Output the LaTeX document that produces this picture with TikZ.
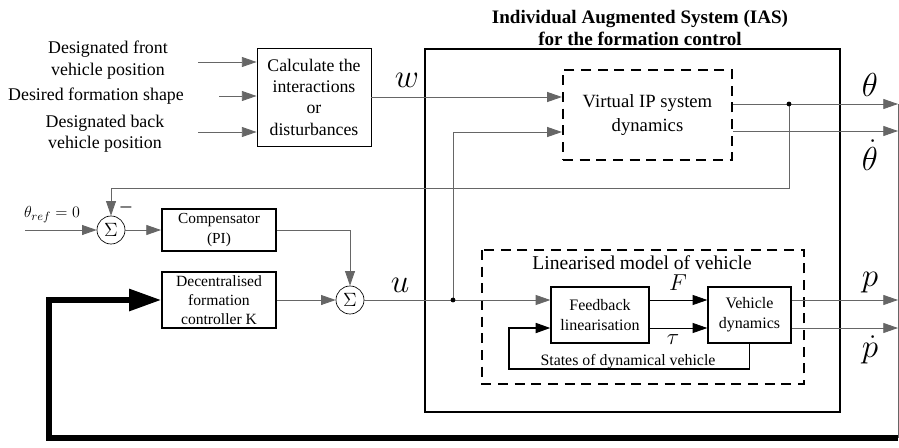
\documentclass[tikz,border=0pt]{standalone}
\usepackage{amsmath,amssymb}
\usepackage{fontspec}
\setmainfont{Liberation Serif}
\usepackage{tikz}
\usetikzlibrary{arrows.meta,calc,positioning}

\begin{document}
\begin{tikzpicture}[x=0.75pt,y=0.75pt,yscale=-1,xscale=1,
  blk/.style={draw,line width=1.2pt,align=center,inner sep=0pt},
  sumnode/.style={draw,circle,line width=0.5pt,minimum size=21pt,inner sep=0pt,font=\fontsize{14}{16}\selectfont},
  wire/.style={draw=black!60,line width=0.6pt},
  sig/.style={wire,-{Triangle[length=11pt,width=7.5pt]}},
  dashbox/.style={draw,line width=1.7pt,dash pattern=on 7.5pt off 5pt},
  lbl/.style={inner sep=0.75pt,align=center,font=\fontsize{13.4}{16}\selectfont},
  sym/.style={inner sep=0.75pt,font=\fontsize{26}{28}\selectfont}]
\useasboundingbox (0,0) rectangle (899,447);

% Text Node
\node[lbl] (front) at (108,60) {Designated front\\vehicle position};
\node[lbl] (shape) at (96,96) {Desired formation shape};
\node[lbl] (back) at (105,134) {Designated back\\vehicle position};
\node[inner sep=0.75pt,align=center,font=\fontsize{14.3}{17}\selectfont\bfseries] (title) at (640,28) {Individual Augmented System (IAS)\\for the formation control};

%Shape: Rectangle
\node[blk,line width=0.7pt,minimum width=85.5pt,minimum height=73.5pt,font=\fontsize{13.3}{16}\selectfont] (calc) at (314,97) {Calculate the\\interactions\\or\\disturbances};
\node[blk,line width=1.5pt,minimum width=85.5pt,minimum height=31.5pt,font=\fontsize{11.5}{15}\selectfont] (comp) at (219,230) {Compensator\\(PI)};
\node[blk,line width=1.5pt,minimum width=85.5pt,minimum height=42pt,font=\fontsize{11.7}{14}\selectfont] (dec) at (219,300) {Decentralised\\formation\\controller K};
\node[sumnode] (s1) at (111,230) {$\Sigma$};
\node[sumnode] (s2) at (350,300) {$\Sigma$};

% IAS block
\draw[line width=2.2pt] (425,49) rectangle (840,412);
\node[dashbox,minimum width=126.75pt,minimum height=67.5pt,align=center,font=\fontsize{14}{18}\selectfont] (virt) at (647.5,115) {Virtual IP system\\dynamics};
\draw[dashbox] (482,250) rectangle (804,384);
\node[inner sep=0.75pt,font=\fontsize{14.7}{18}\selectfont] (linlbl) at (642,263) {Linearised model of vehicle};
\node[blk,line width=1pt,minimum width=73.5pt,minimum height=42pt,font=\fontsize{12}{15}\selectfont] (fbl) at (600,315) {Feedback\\linearisation};
\node[blk,line width=1pt,minimum width=62.25pt,minimum height=42pt,font=\fontsize{12}{15}\selectfont] (veh) at (749.5,315) {Vehicle\\dynamics};
\node[inner sep=0.75pt,font=\fontsize{11.9}{14}\selectfont] (states) at (628,362) {States of dynamical vehicle};

% Coordinates
\coordinate (inF) at (198,62);
\coordinate (inS) at (219,96);
\coordinate (inB) at (198,132);
\coordinate (inR) at (25,230);
\coordinate (jt) at (789,104);
\coordinate (ju) at (453,300);
\coordinate (tap) at (111,188);
\coordinate (lp) at (509,369);
\coordinate (busT) at (898,104);
\coordinate (thd) at (898,131);
\coordinate (pout) at (898,300);
\coordinate (pdout) at (898,328);
\coordinate (busB) at (898,438);
\coordinate (fbL) at (49,300);

%Straight Lines
\draw[sig] (inF) -- (inF -| calc.west);
\draw[sig] (inS) -- (inS -| calc.west);
\draw[sig] (inB) -- (inB -| calc.west);
\draw[sig] (calc.east) -- (calc.east -| virt.west);
\draw[wire] ([yshift=-8.25pt]virt.east) -- (jt);
\draw[sig] (jt) -- (busT);
\draw[sig] ([yshift=12pt]virt.east) -- (thd);
\draw[sig] (jt) |- (tap) -- (s1.north);
\draw[sig] (inR) -- (s1.west);
\draw[sig] (s1.east) -- (comp.west);
\draw[sig] (comp.east) -| (s2.north);
\draw[sig] (dec.east) -- (s2.west);
\draw[wire] (s2.east) -- (ju);
\draw[sig] (ju) -- ([yshift=-11.25pt]fbl.west);
\draw[sig] (ju) |- ([yshift=12.75pt]virt.west);
\draw[sig,draw=black] ([yshift=-11.25pt]fbl.east) -- ([yshift=-11.25pt]veh.west);
\draw[sig,draw=black] ([yshift=9.75pt]fbl.east) -- ([yshift=9.75pt]veh.west);
\draw[sig] ([yshift=-11.25pt]veh.east) -- (pout);
\draw[sig] ([yshift=9.75pt]veh.east) -- (pdout);
\draw[line width=1.3pt,-{Triangle[length=11pt,width=7.5pt]}] (veh.south) |- (lp) |- ([yshift=9.75pt]fbl.west);
\draw[wire] (busT) -- (busB);
\draw[line width=3.8pt,-{Triangle[length=24pt,width=16pt]}] (busB) -| (fbL) -- (dec.west);

% Junction dots
\fill (jt) circle (1.8pt);
\fill (ju) circle (1.8pt);

% Text Node
\node[sym] (wl) at (407,80) {$w$};
\node[sym] (ul) at (400,285) {$u$};
\node[sym] (thl) at (870,85) {$\theta$};
\node[sym] (thdl) at (870,155) {$\dot{\theta}$};
\node[sym] (pl) at (870,283) {$p$};
\node[sym] (pdl) at (870,350) {$\dot{p}$};
\node[inner sep=0.75pt,font=\fontsize{18}{20}\selectfont] (Fl) at (678,283) {$F$};
\node[inner sep=0.75pt,font=\fontsize{18}{20}\selectfont] (taul) at (673,340) {$\tau$};
\node[inner sep=0.75pt,font=\fontsize{13}{16}\selectfont] (refl) at (52,215) {$\theta_{ref}=0$};
\node[inner sep=0.75pt,font=\fontsize{13}{16}\selectfont] (neg) at (126,207) {$\boldsymbol{-}$};

\end{tikzpicture}
\end{document}
